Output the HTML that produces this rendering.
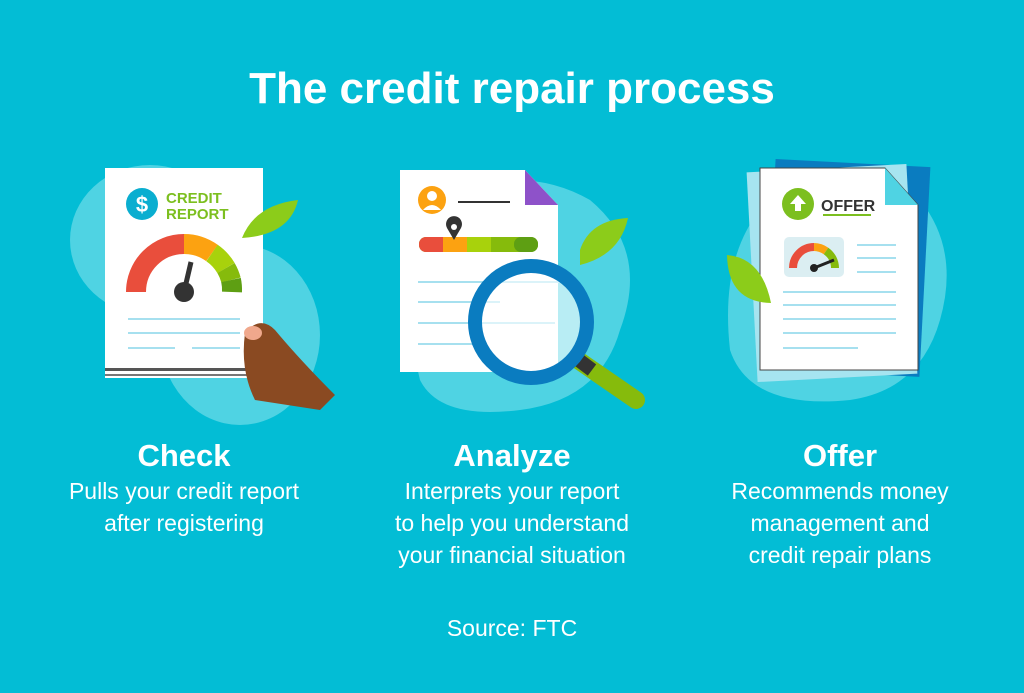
<!DOCTYPE html>
<html><head><style>
body{margin:0;width:1024px;height:693px;background:#03bdd5;overflow:hidden;font-family:"Liberation Sans",sans-serif;color:#fff}
.t{position:absolute;left:0;width:1024px;text-align:center;top:64px;font-size:44px;font-weight:bold}
.c{position:absolute;width:340px;text-align:center;font-size:23px;line-height:32px}
.c b{display:block;font-size:31px;line-height:40px;margin-bottom:-1px}
.s{position:absolute;top:615px;left:0;width:1024px;text-align:center;font-size:23px}
</style></head><body>
<svg width="1024" height="693" style="position:absolute;left:0;top:0">
<g fill="#4fd3e3">
<ellipse cx="150" cy="240" rx="80" ry="75"/><ellipse cx="240" cy="335" rx="80" ry="90"/>
<path d="M430 200 Q520 160 590 200 Q650 250 620 330 Q600 400 520 410 Q440 420 420 380 Q400 300 430 200Z"/>
<path d="M760 210 Q850 170 920 200 Q960 250 940 320 Q920 390 850 400 Q750 410 730 350 Q720 260 760 210Z"/>
</g>
<!-- Check -->
<rect x="105" y="168" width="158" height="210" fill="#fff"/>
<rect x="105" y="368" width="158" height="3" fill="#555"/><rect x="105" y="374" width="158" height="2" fill="#777"/>
<circle cx="142" cy="204" r="16" fill="#0aaed0"/><text x="142" y="212" font-size="22" font-weight="bold" fill="#fff" text-anchor="middle">$</text>
<text x="166" y="203" font-size="15" font-weight="bold" fill="#7cbf1f">CREDIT</text><text x="166" y="219" font-size="15" font-weight="bold" fill="#7cbf1f">REPORT</text>
<g fill="none" stroke-width="20">
<path d="M136 292 A48 48 0 0 1 184 244" stroke="#e94e3c"/>
<path d="M184 244 A48 48 0 0 1 212 253" stroke="#fca211"/>
<path d="M212 253 A48 48 0 0 1 226 268" stroke="#a8d20c"/>
<path d="M226 268 A48 48 0 0 1 231 280" stroke="#86bb0c"/>
<path d="M231 280 A48 48 0 0 1 232 292" stroke="#5e9f13"/>
</g>
<line x1="184" y1="292" x2="191" y2="262" stroke="#333" stroke-width="5"/><circle cx="184" cy="292" r="10" fill="#333"/>
<g stroke="#a6e0ef" stroke-width="2"><line x1="128" y1="319" x2="240" y2="319"/><line x1="128" y1="333" x2="240" y2="333"/><line x1="128" y1="348" x2="175" y2="348"/><line x1="192" y1="348" x2="240" y2="348"/></g>
<path d="M245 333 Q260 315 275 330 Q300 360 335 395 L320 410 L255 400 Q240 370 245 333Z" fill="#8a4a22"/>
<ellipse cx="253" cy="333" rx="9" ry="7" fill="#f0a88c"/>
<path d="M242 238 Q255 205 298 200 Q290 235 242 238Z" fill="#8ccc1a"/>
<!-- Analyze -->
<path d="M400 170 L525 170 L558 205 L558 372 L400 372Z" fill="#fff"/>
<path d="M525 170 L558 205 L525 205Z" fill="#8e52c9"/>
<circle cx="432" cy="200" r="14" fill="#fca211"/><circle cx="432" cy="196" r="5" fill="#fff"/><path d="M423 210 Q432 200 441 210Z" fill="#fff"/>
<line x1="458" y1="202" x2="510" y2="202" stroke="#333" stroke-width="2"/>
<rect x="419" y="237" width="119" height="15" rx="7" fill="#86bb0c"/>
<rect x="419" y="237" width="24" height="15" rx="7" fill="#e94e3c"/><rect x="432" y="237" width="11" height="15" fill="#e94e3c"/>
<rect x="443" y="237" width="24" height="15" fill="#fca211"/><rect x="467" y="237" width="24" height="15" fill="#a8d20c"/><rect x="514" y="237" width="24" height="15" rx="7" fill="#5e9f13"/>
<path d="M454 240 L447 228 A8 8 0 1 1 461 228Z" fill="#333"/><circle cx="454" cy="227" r="3" fill="#fff"/>
<g stroke="#a6e0ef" stroke-width="2"><line x1="418" y1="282" x2="560" y2="282"/><line x1="418" y1="302" x2="500" y2="302"/><line x1="418" y1="323" x2="555" y2="323"/><line x1="418" y1="344" x2="480" y2="344"/></g>
<line x1="578" y1="360" x2="636" y2="400" stroke="#86bb0c" stroke-width="18" stroke-linecap="round"/>
<line x1="576" y1="358" x2="592" y2="370" stroke="#333" stroke-width="14"/>
<circle cx="531" cy="322" r="56" fill="#fff" fill-opacity=".6" stroke="#0a7cc0" stroke-width="14"/>
<path d="M580 250 Q590 220 628 218 Q620 255 580 265Z" fill="#8ccc1a"/>
<!-- Offer -->
<rect x="770" y="163" width="155" height="210" fill="#0a7cc0" transform="rotate(3 848 268)"/>
<rect x="752" y="168" width="160" height="210" fill="#a6e4f0" transform="rotate(-3 832 273)"/>
<path d="M760 168 L885 168 L918 205 L918 370 L760 370Z" fill="#fff" stroke="#444" stroke-width="1"/>
<path d="M885 168 L918 205 L885 205Z" fill="#4fd3e3"/>
<circle cx="798" cy="204" r="16" fill="#7cbf1f"/><path d="M798 195 L806 204 L801 204 L801 211 L795 211 L795 204 L790 204Z" fill="#fff"/>
<text x="821" y="211" font-size="16" font-weight="bold" fill="#333">OFFER</text><line x1="823" y1="215" x2="871" y2="215" stroke="#7cbf1f" stroke-width="2"/>
<rect x="784" y="237" width="60" height="40" rx="5" fill="#dbeef2"/>
<g fill="none" stroke-width="8"><path d="M793 268 A21 21 0 0 1 814 247" stroke="#e94e3c"/><path d="M814 247 A21 21 0 0 1 826 251" stroke="#fca211"/><path d="M826 251 A21 21 0 0 1 835 268" stroke="#86bb0c"/></g>
<line x1="814" y1="268" x2="834" y2="260" stroke="#222" stroke-width="3"/><circle cx="814" cy="268" r="4" fill="#222"/>
<g stroke="#a6e0ef" stroke-width="2"><line x1="857" y1="245" x2="896" y2="245"/><line x1="857" y1="258" x2="896" y2="258"/><line x1="857" y1="272" x2="896" y2="272"/><line x1="783" y1="292" x2="896" y2="292"/><line x1="783" y1="305" x2="896" y2="305"/><line x1="783" y1="319" x2="896" y2="319"/><line x1="783" y1="333" x2="896" y2="333"/><line x1="783" y1="348" x2="858" y2="348"/></g>
<path d="M727 255 Q762 258 771 303 Q728 302 727 255Z" fill="#8ccc1a"/>
</svg>
<div class="t">The credit repair process</div>
<div class="c" style="left:14px;top:436px"><b>Check</b>Pulls your credit report<br>after registering</div>
<div class="c" style="left:342px;top:436px"><b>Analyze</b>Interprets your report<br>to help you understand<br>your financial situation</div>
<div class="c" style="left:670px;top:436px"><b>Offer</b>Recommends money<br>management and<br>credit repair plans</div>
<div class="s">Source: FTC</div>
</body></html>
